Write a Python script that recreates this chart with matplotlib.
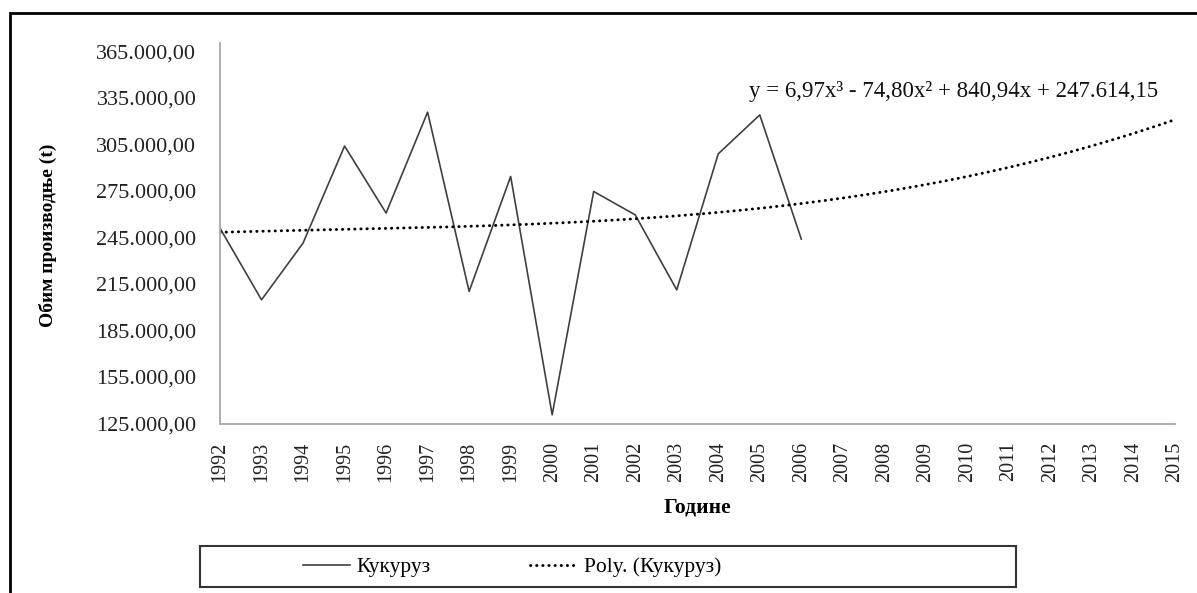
import numpy as np
import matplotlib
matplotlib.use("Agg")
import matplotlib.pyplot as plt
from matplotlib.patches import Rectangle
from matplotlib.ticker import FuncFormatter

# podaci - proizvodnja kukuruza (t)
years = list(range(1992, 2016))
data_years = list(range(1992, 2007))
kukuruz = [251000, 204800, 241400, 304000, 260800, 325900, 210200, 284400,
           130600, 274700, 259600, 211200, 299000, 324100, 244000]

# koeficijenti trenda (sa grafika): y = a x^3 + b x^2 + c x + d
trend_coef = [6.97, -74.80, 840.94, 247614.15]
trend_label = "y = 6,97x³ - 74,80x² + 840,94x + 247.614,15"

y_ticks = [125000, 155000, 185000, 215000, 245000, 275000, 305000, 335000, 365000]

plt.rcParams['font.family'] = ['Liberation Serif', 'DejaVu Serif']

W, H = 1197, 593
fig = plt.figure(figsize=(W / 100, H / 100), dpi=100)
ax = fig.add_axes([220 / W, 1 - 423.5 / H, (1175 - 220) / W, (423.5 - 43) / H])

# x pozicije kao kategorije 1..24
xpos = np.arange(1, len(years) + 1)
ax.plot(xpos[:len(kukuruz)], kukuruz, color='#404040', lw=1.2, label='Кукуруз')

xs = np.linspace(1, len(years), 300)
ax.plot(xs, np.polyval(trend_coef, xs), color='black', lw=2.1,
        linestyle=(0, (0.1, 2.0)), dash_capstyle='round', label='Poly. (Кукуруз)')

ax.set_xlim(1, len(years))
ax.set_ylim(125000, 370500)
ax.set_xticks(xpos)
ax.set_xticklabels([str(y) for y in years], rotation=90, fontsize=14.5)
ax.set_yticks(y_ticks)


def fmt(v, pos):
    s = f"{v:,.2f}"
    return s.replace(",", " ").replace(".", ",").replace(" ", ".")


ax.yaxis.set_major_formatter(FuncFormatter(fmt))
ax.tick_params(axis='y', length=0, pad=17, labelsize=16, colors='#222222')
ax.tick_params(axis='x', length=0, pad=13, colors='#222222')

for s in ['top', 'right']:
    ax.spines[s].set_visible(False)
for s in ['left', 'bottom']:
    ax.spines[s].set_color('#a8a8a8')
    ax.spines[s].set_linewidth(1.3)

fig.text(48 / W, 1 - 235 / H, 'Обим производње (t)', rotation=90, fontsize=14,
         fontweight='bold', ha='center', va='center')
fig.text(697 / W, 1 - 508 / H, 'Године', fontsize=15.5, fontweight='bold',
         ha='center', va='center')
fig.text(1158 / W, 1 - 92 / H, trend_label, fontsize=16.5, ha='right', va='center',
         color='#111111')

# okvir legende
fig.patches.append(Rectangle((200 / W, 1 - 587 / H), 816 / W, 41 / H,
                             transform=fig.transFigure, fill=False,
                             edgecolor='#333333', lw=1.5))
handles, labels = ax.get_legend_handles_labels()
fig.legend(handles, labels, loc='center', bbox_to_anchor=(512 / W, 1 - 567 / H),
           ncol=2, frameon=False, fontsize=15.5, handlelength=2.2,
           columnspacing=4.6, handletextpad=0.3)

# spoljni okvir
fig.patches.append(Rectangle((10 / W, -0.05), 1.1, 1 - 13 / H + 0.05,
                             transform=fig.transFigure, fill=False,
                             edgecolor='black', lw=2))

fig.savefig('out.png', dpi=100)
